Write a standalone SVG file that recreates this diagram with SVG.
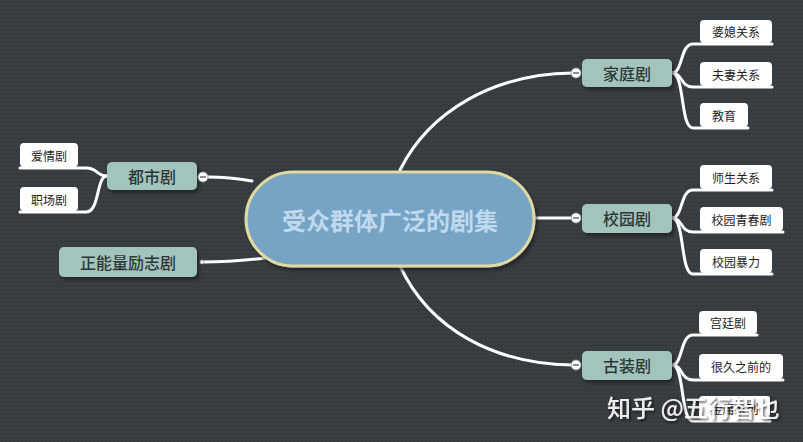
<svg xmlns="http://www.w3.org/2000/svg" width="803" height="442" viewBox="0 0 803 442">
<defs>
<pattern id="grid" width="4" height="4" patternUnits="userSpaceOnUse">
<rect width="4" height="4" fill="#383e42"/>
<rect x="1" y="1" width="1.5" height="1.5" fill="#2e3437"/>
</pattern>
<filter id="sh" x="-10%" y="-20%" width="130%" height="150%">
<feDropShadow dx="2" dy="3" stdDeviation="1.5" flood-color="#1a1e20" flood-opacity="0.7"/>
</filter>
<filter id="wm" x="-5%" y="-20%" width="110%" height="150%">
<feDropShadow dx="1.5" dy="1.5" stdDeviation="0.8" flood-color="#111" flood-opacity="0.8"/>
</filter>
</defs>
<style>
.main rect{fill:#a3c4bd;}
.main text{font-family:"Noto Sans CJK SC","Noto Sans",sans-serif;font-size:16px;font-weight:500;fill:#2c3838;text-anchor:middle;dominant-baseline:central;}
.leaf rect{fill:#ffffff;}
.leaf text{font-family:"Noto Sans CJK SC","Noto Sans",sans-serif;font-size:12px;fill:#1e1e1e;text-anchor:middle;dominant-baseline:central;}
.conn path{fill:none;stroke:#ffffff;stroke-width:3;stroke-linecap:round;}
.tog circle{fill:#ffffff;stroke:#8a9a98;stroke-width:0.8;}
.tog line{stroke:#444;stroke-width:1.2;}
</style>
<rect width="803" height="442" fill="url(#grid)"/>

<g id="connectors" class="conn">
<path d="M400,170 C430,110 495,74 572,73"/>
<path d="M534,218 L572,218"/>
<path d="M400,266 C430,330 495,364 572,365"/>
<path d="M252,181 C235,178 222,177 208,177"/>
<path d="M265,258 C240,261 220,262 203,262"/>
<path d="M672,73 C683,73 680,44 693,44 L772,44"/>
<path d="M672,73 C683,73 680,87 693,87 L772,87"/>
<path d="M672,73 C685,73 680,128 693,128 L748,128"/>
<path d="M672,218 C683,218 680,190 693,190 L772,190"/>
<path d="M672,218 C683,218 680,232 693,232 L783,232"/>
<path d="M672,218 C685,218 680,274 693,274 L772,274"/>
<path d="M672,365 C683,365 680,335 693,335 L757,335"/>
<path d="M672,365 C683,365 680,380 693,380 L783,380"/>
<path d="M672,365 C685,365 680,421 693,421 L770,421"/>
<path d="M107,176 C96,176 98,168 86,168 L20,168"/>
<path d="M107,176 C96,176 100,212 86,212 L20,212"/>
</g>

<g id="center">
<rect x="246" y="172" width="288" height="94" rx="47" fill="#77a3c4" stroke="#dedaa2" stroke-width="3" filter="url(#sh)"/>
<text x="390" y="219" font-family="Noto Sans CJK SC,sans-serif" font-size="24" font-weight="bold" fill="#bfd9ee" text-anchor="middle" dominant-baseline="central">受众群体广泛的剧集</text>
</g>

<g id="node-jiating" class="main">
<rect x="582" y="59" width="90" height="28" rx="5" filter="url(#sh)"/>
<text x="627" y="73">家庭剧</text>
</g>
<g id="node-xiaoyuan" class="main">
<rect x="582" y="204" width="90" height="29" rx="5" filter="url(#sh)"/>
<text x="627" y="218">校园剧</text>
</g>
<g id="node-guzhuang" class="main">
<rect x="582" y="351" width="90" height="29" rx="5" filter="url(#sh)"/>
<text x="627" y="365">古装剧</text>
</g>
<g id="node-dushi" class="main">
<rect x="107" y="162" width="90" height="28" rx="5" filter="url(#sh)"/>
<text x="152" y="176">都市剧</text>
</g>
<g id="node-zhengnengliang" class="main">
<rect x="59" y="247" width="138" height="30" rx="5" filter="url(#sh)"/>
<text x="128" y="262">正能量励志剧</text>
</g>

<g id="toggles" class="tog">
<circle cx="576" cy="73" r="5"/><line x1="573" y1="73" x2="579" y2="73"/>
<circle cx="576" cy="218" r="5"/><line x1="573" y1="218" x2="579" y2="218"/>
<circle cx="576" cy="365" r="5"/><line x1="573" y1="365" x2="579" y2="365"/>
<circle cx="203" cy="177" r="5"/><line x1="200" y1="177" x2="206" y2="177"/>
<circle cx="202" cy="262" r="2"/>
</g>

<g id="leaf-poxi" class="leaf"><rect x="700" y="20" width="72" height="23" rx="4"/><text x="736" y="31.5">婆媳关系</text></g>
<g id="leaf-fuqi" class="leaf"><rect x="700" y="62" width="72" height="24" rx="4"/><text x="736" y="74">夫妻关系</text></g>
<g id="leaf-jiaoyu" class="leaf"><rect x="700" y="103" width="48" height="24" rx="4"/><text x="724" y="115">教育</text></g>
<g id="leaf-shisheng" class="leaf"><rect x="700" y="165" width="72" height="24" rx="4"/><text x="736" y="177">师生关系</text></g>
<g id="leaf-qingchun" class="leaf"><rect x="700" y="207" width="83" height="24" rx="4"/><text x="741.5" y="219">校园青春剧</text></g>
<g id="leaf-baoli" class="leaf"><rect x="700" y="249" width="72" height="24" rx="4"/><text x="736" y="261">校园暴力</text></g>
<g id="leaf-gongting" class="leaf"><rect x="699" y="311" width="58" height="23" rx="4"/><text x="728" y="322.5">宫廷剧</text></g>
<g id="leaf-henjiu" class="leaf"><rect x="699" y="354" width="84" height="25" rx="4"/><text x="741" y="366.5">很久之前的</text></g>
<g id="leaf-jinyong" class="leaf"><rect x="699" y="396" width="71" height="24" rx="4"/><text x="734.5" y="408">金庸系列</text></g>
<g id="leaf-aiqing" class="leaf"><rect x="20" y="143" width="58" height="24" rx="4"/><text x="49" y="155">爱情剧</text></g>
<g id="leaf-zhichang" class="leaf"><rect x="20" y="187" width="58" height="24" rx="4"/><text x="49" y="199">职场剧</text></g>

<text x="607" y="417" font-family="Noto Sans CJK SC,sans-serif" font-size="24" font-weight="500" fill="#ffffff" opacity="0.9" filter="url(#wm)">知乎 @五行智也</text>
</svg>
